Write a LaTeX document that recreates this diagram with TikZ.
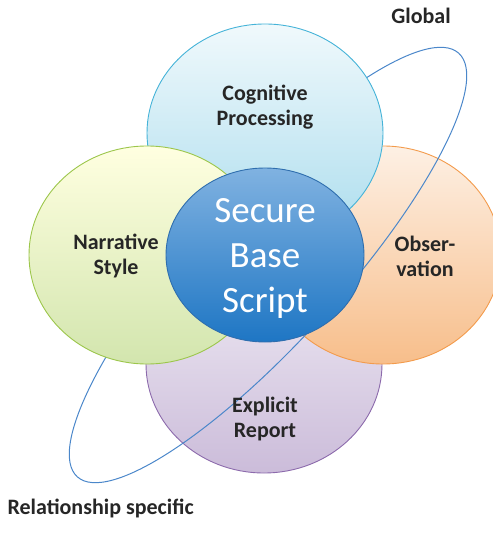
\documentclass[tikz,border=0pt]{standalone}
\usepackage{fontspec}
\setmainfont{Carlito}
\usetikzlibrary{shapes.geometric,shadings}

\definecolor{cogLine}{HTML}{45B3D8}
\definecolor{narLine}{HTML}{9CC64B}
\definecolor{obsLine}{HTML}{F39B4C}
\definecolor{expLine}{HTML}{8C6AAC}
\definecolor{sbsLine}{HTML}{2F6EAE}
\definecolor{sbsTop}{HTML}{80B2E1}
\definecolor{sbsBottom}{HTML}{1E76C4}
\definecolor{orbitBlue}{HTML}{4B87CA}

\begin{document}
\begin{tikzpicture}[x=1pt, y=-1pt,
	petal/.style={ellipse, draw, line width=0.9pt, minimum width=236pt, minimum height=218pt, inner sep=0pt},
	petaltext/.style={font=\bfseries\fontsize{22}{25}\selectfont, align=center, text=black!85}]
	\useasboundingbox (0, 0) rectangle (492, 534);
	% Petals, orbit and core:
	\node[petal, draw=expLine, top color=expLine!12, bottom color=expLine!45] (explicit) at (264, 364){};
	\node[petal, draw=obsLine, top color=obsLine!15, bottom color=obsLine!65] (observ) at (383, 255){};
	\node[ellipse, draw=orbitBlue, line width=1pt, minimum width=570pt, minimum height=150pt, rotate=48] (orbit) at (268, 265){};
	\node[petal, draw=cogLine, top color=cogLine!8, bottom color=cogLine!45] (cognitive) at (265, 133){};
	\node[petal, draw=narLine, top color=yellow!12, bottom color=narLine!45] (narrative) at (147, 255){};
	\node[ellipse, draw=sbsLine, line width=0.9pt, minimum width=198pt, minimum height=174pt, top color=sbsTop, bottom color=sbsBottom] (core) at (265, 255){};
	% Texts:
	\node[petaltext] (cogtext) at (265, 107){Cognitive\\Processing};
	\node[petaltext] (nartext) at (116, 256){Narrative\\Style};
	\node[petaltext] (obstext) at (425, 256){Obser-\\vation};
	\node[petaltext] (exptext) at (265, 419){Explicit\\Report};
	\node[font=\fontsize{37}{45}\selectfont, align=center, text=white] (coretext) at (265, 258){Secure\\Base\\Script};
	\node[petaltext] (globaltext) at (421, 16){Global};
	\node[petaltext, anchor=west] (relspec) at (4, 508){Relationship specific};
\end{tikzpicture}
\end{document}
